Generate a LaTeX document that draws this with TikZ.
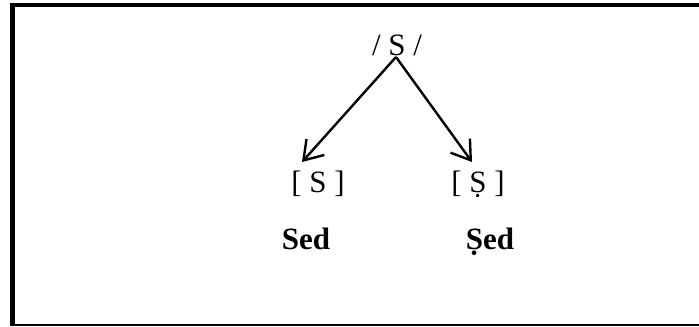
\documentclass[tikz,border=0pt]{standalone}
\usepackage{fontspec}
\setmainfont{Liberation Serif}
\usepackage{tikz}
\usetikzlibrary{arrows.meta}

\begin{document}
\begin{tikzpicture}[x=0.5pt,y=-0.5pt]
\useasboundingbox (0,0) rectangle (699,326);
% frame
\draw [line width=2pt] (10,5) -- (699,5);
\draw [line width=2.5pt] (12.5,3) -- (12.5,326);
\draw [line width=1pt] (10,325) -- (699,325);
\begin{scope}[every node/.style={inner sep=0pt,anchor=base,font=\fontsize{15.5}{18}\selectfont}]
    \node (Top) at (397,56) {/ S /};
    \node (SPlain) at (318,192) {[ S ]};
    \node (SDot) at (478,192) {[ Ṣ ]};
    \node (Sed) at (306,249) {\bfseries Sed};
    \node (SedDot) at (490,249) {\bfseries Ṣed};
    \coordinate (Apex) at (396,57);
    \coordinate (LeftTip) at (302,162);
    \coordinate (RightTip) at (472,162);
\end{scope}
\begin{scope}[>={Straight Barb[length=9pt,width=12pt]},
              allo_edge/.style={draw=black,line width=1.2pt}]
    \path [->] (Apex) edge [allo_edge] (LeftTip);
    \path [->] (Apex) edge [allo_edge] (RightTip);
\end{scope}
\end{tikzpicture}
\end{document}
